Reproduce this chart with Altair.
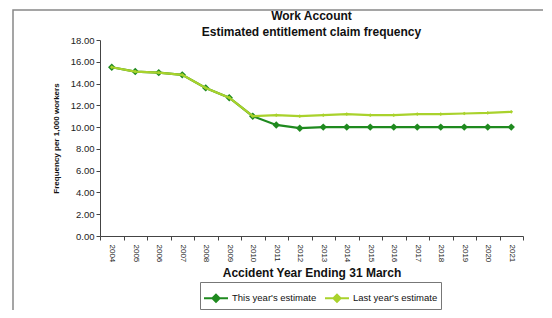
import altair as alt
import pandas as pd

years = [str(y) for y in range(2004, 2022)]
this_year = [15.5, 15.1, 15.0, 14.8, 13.6, 12.7, 11.0, 10.2, 9.9, 10.0, 10.0, 10.0, 10.0, 10.0, 10.0, 10.0, 10.0, 10.0]
last_year = [15.5, 15.1, 15.0, 14.8, 13.6, 12.7, 11.0, 11.1, 11.0, 11.1, 11.2, 11.1, 11.1, 11.2, 11.2, 11.25, 11.3, 11.4]
series_names = ["This year's estimate", "Last year's estimate"]
series_colors = ["#1f8a1f", "#a9d22c"]

df = pd.DataFrame(
    {"year": years * 2,
     "value": this_year + last_year,
     "series": [series_names[0]] * len(years) + [series_names[1]] * len(years)}
)

FONT = "Liberation Sans"

x_enc = alt.X("year:O", bandPosition=0.5,
              scale=alt.Scale(type="band", paddingInner=0, paddingOuter=0),
              axis=alt.Axis(title="Accident Year Ending 31 March", labelAngle=90,
                            labelAlign="left", labelBaseline="middle",
                            labelFontSize=8, labelPadding=4, tickBand="extent",
                            titleFontSize=12, titleFontWeight="bold", titlePadding=6,
                            domainColor="#444", tickColor="#444", tickSize=4,
                            labelColor="#222", titleColor="#111"))
y_enc = alt.Y("value:Q", scale=alt.Scale(domain=[0, 18]),
              axis=alt.Axis(title="Frequency per 1,000 workers", format=".2f",
                            values=list(range(0, 19, 2)), grid=False,
                            labelFontSize=9.5, titleFontSize=8, titleFontWeight="bold",
                            titlePadding=10, domainColor="#444", tickColor="#444",
                            tickSize=4, labelColor="#222", titleColor="#111"))
color_enc = alt.Color("series:N",
                      scale=alt.Scale(domain=series_names, range=series_colors),
                      legend=alt.Legend(title=None, orient="none", direction="horizontal",
                                        legendX=100, legendY=242,
                                        symbolType="M-1,0H1M0,-0.3L0.3,0L0,0.3L-0.3,0Z",
                                        symbolSize=576, symbolStrokeWidth=2,
                                        labelFontSize=9.5, labelColor="#111",
                                        strokeColor="#777", padding=3,
                                        columnPadding=4, labelOffset=3))

base = alt.Chart(df)

line_this = base.transform_filter(alt.datum.series == series_names[0]).mark_line(strokeWidth=2.2).encode(
    x=x_enc, y=y_enc, color=color_enc)
pts_this = base.transform_filter(alt.datum.series == series_names[0]).mark_point(
    shape="diamond", filled=True, size=55, opacity=1).encode(x=x_enc, y=y_enc, color=color_enc)
line_last = base.transform_filter(alt.datum.series == series_names[1]).mark_line(strokeWidth=2.2).encode(
    x=x_enc, y=y_enc, color=color_enc)
pts_last = base.transform_filter(alt.datum.series == series_names[1]).mark_point(
    shape="diamond", filled=True, size=14, opacity=1).encode(x=x_enc, y=y_enc, color=color_enc)

frame = alt.Chart(pd.DataFrame({"a": [0]})).mark_rect(
    fill=None, stroke="#888", strokeWidth=1.5, clip=False).encode(
    x=alt.value(-87), y=alt.value(-30), x2=alt.value(460), y2=alt.value(300))

chart = alt.layer(frame, line_this, pts_this, line_last, pts_last).properties(
    width=423, height=196,
    title=alt.TitleParams(["Work Account", "Estimated entitlement claim frequency"],
                          anchor="middle", fontSize=12, fontWeight="bold",
                          lineHeight=16, offset=4, dy=34, color="#111", font=FONT),
    autosize=alt.AutoSizeParams(type="none"),
    padding={"left": 92, "top": 32, "right": 20, "bottom": 74},
).configure(font=FONT).configure_view(stroke=None)

chart.save("out.html", embed_options={"renderer": "svg", "actions": False})
